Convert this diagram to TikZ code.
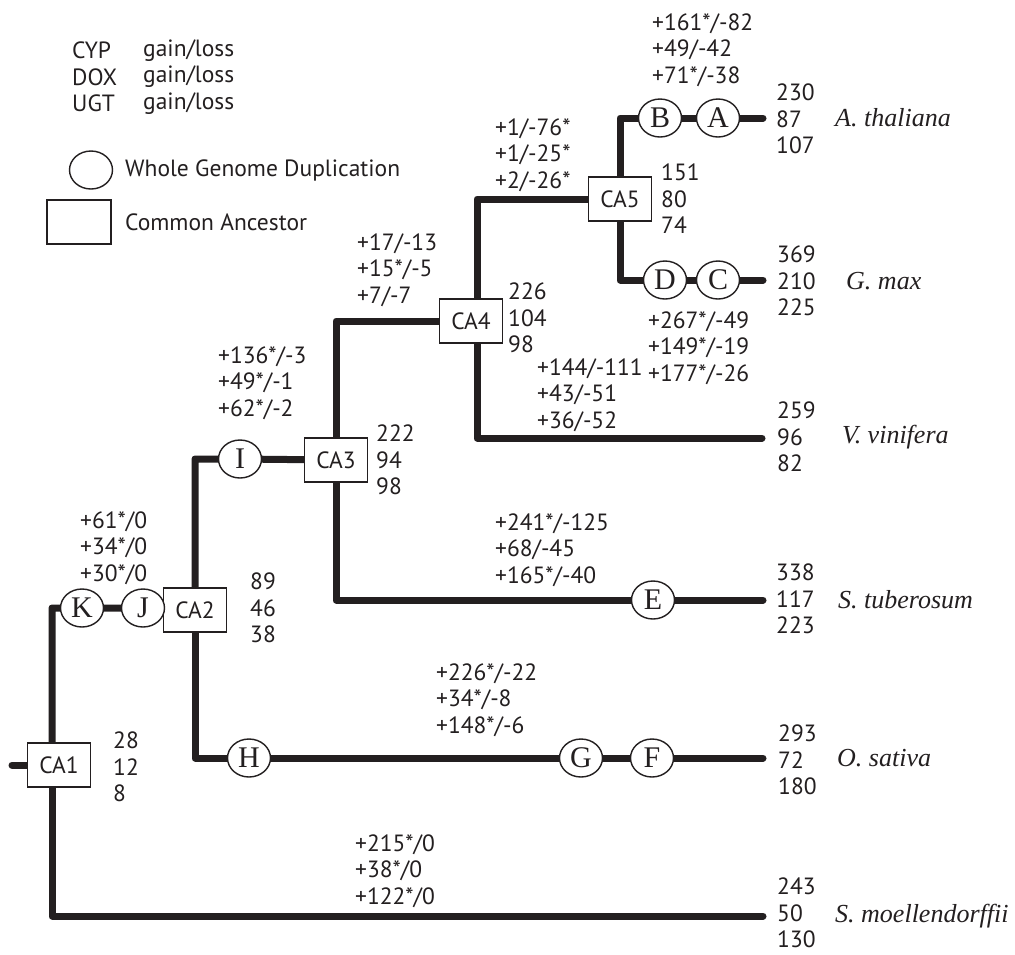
\documentclass[tikz,border=0pt]{standalone}
\usepackage{fontspec}
\setmainfont{Liberation Serif}
\setsansfont{PT Sans}
\usetikzlibrary{shapes.geometric,backgrounds}
\definecolor{ink}{RGB}{35,31,32}
\newcommand{\labfont}{\sffamily\fontsize{23.5}{26.5}\selectfont}
\newcommand{\wgdfont}{\rmfamily\fontsize{30}{30}\selectfont}
\newcommand{\spfont}{\rmfamily\itshape\fontsize{26}{28}\selectfont}
\begin{document}
\begin{tikzpicture}[x=1pt,y=-1pt,
  branch/.style={line width=7pt, draw=ink, line cap=round, line join=round},
  wgd/.style={ellipse, draw=ink, line width=1.4pt, fill=white, minimum width=43pt, minimum height=38pt, inner sep=0pt, font=\wgdfont, text=ink},
  ca/.style={rectangle, draw=ink, line width=1.3pt, fill=white, minimum width=63pt, minimum height=44pt, inner sep=0pt, font=\labfont, text=ink},
  lab/.style={anchor=west, align=left, inner sep=0pt, font=\labfont, text=ink},
  sp/.style={anchor=west, inner sep=0pt, font=\spfont, text=ink}]
\useasboundingbox (0,0) rectangle (1015,954);

% legend
\node[lab] (legname) at (72,77) {CYP\\DOX\\UGT};
\node[lab] (legval) at (143,77) {gain/loss\\gain/loss\\gain/loss};
\node[wgd] (legwgd) at (91,170) {};
\node[lab] (legwgdt) at (125,170) {Whole Genome Duplication};
\node[ca, minimum width=64pt] (legca) at (79,222) {};
\node[lab] (legcat) at (125,222) {Common Ancestor};

% ancestors
\node[ca] (CA1) at (59,765) {CA1};
\node[ca] (CA2) at (195,610) {CA2};
\node[ca] (CA3) at (336,460) {CA3};
\node[ca] (CA4) at (471,321) {CA4};
\node[ca] (CA5) at (620,199) {CA5};

% duplications
\node[wgd] (K) at (82,608) {K};
\node[wgd] (J) at (143,608) {J};
\node[wgd] (I) at (240,459) {I};
\node[wgd] (H) at (249,758) {H};
\node[wgd] (G) at (581,758) {G};
\node[wgd] (F) at (652,758) {F};
\node[wgd] (E) at (653,600) {E};
\node[wgd] (D) at (665,280) {D};
\node[wgd] (C) at (718,280) {C};
\node[wgd] (B) at (660,118) {B};
\node[wgd] (A) at (718,118) {A};

% tips
\coordinate (root) at (12,765);
\coordinate (Ath) at (763,118);
\coordinate (Gma) at (763,280);
\coordinate (Vvi) at (762,438);
\coordinate (Stu) at (763,600);
\coordinate (Osa) at (763,758);
\coordinate (Smo) at (763,916);

\begin{scope}[on background layer]
\fill[white] (0,0) rectangle (1015,954);
\draw[branch] (root) -- (CA1.center);
\draw[branch] ([xshift=-7pt]CA1.center) |- (K.center) -- (J.center) -- (CA2.center);
\draw[branch] ([xshift=-7pt]CA1.center) |- (Smo);
\draw[branch] (CA2.center) |- (I.center) -- (CA3.center);
\draw[branch] (CA2.center) |- (H.center) -- (G.center) -- (F.center) -- (Osa);
\draw[branch] (CA3.center) |- (CA4.center);
\draw[branch] (CA3.center) |- (E.center) -- (Stu);
\draw[branch] ([xshift=6pt]CA4.center) |- (CA5.center);
\draw[branch] ([xshift=6pt]CA4.center) |- (Vvi);
\draw[branch] (CA5.center) |- (B.center) -- (A.center) -- (Ath);
\draw[branch] (CA5.center) |- (D.center) -- (C.center) -- (Gma);
\end{scope}

% gene counts at nodes
\node[lab] (nCA1) at (113,767) {28\\12\\8};
\node[lab] (nCA2) at (250,608) {89\\46\\38};
\node[lab] (nCA3) at (376,460) {222\\94\\98};
\node[lab] (nCA4) at (508,318) {226\\104\\98};
\node[lab] (nCA5) at (661,199) {151\\80\\74};
\node[lab] (nAth) at (776,119) {230\\87\\107};
\node[lab] (nGma) at (777,281) {369\\210\\225};
\node[lab] (nVvi) at (777,437) {259\\96\\82};
\node[lab] (nStu) at (776,599) {338\\117\\223};
\node[lab] (nOsa) at (778,760) {293\\72\\180};
\node[lab] (nSmo) at (777,913) {243\\50\\130};

% gain/loss on branches
\node[lab] (gAB) at (652,50) {+161*/-82\\+49/-42\\+71*/-38};
\node[lab] (gCA5) at (495,155) {+1/-76*\\+1/-25*\\+2/-26*};
\node[lab] (gCA4) at (357,270) {+17/-13\\+15*/-5\\+7/-7};
\node[lab] (gI) at (218,383) {+136*/-3\\+49*/-1\\+62*/-2};
\node[lab] (gKJ) at (80,548) {+61*/0\\+34*/0\\+30*/0};
\node[lab] (gE) at (495,550) {+241*/-125\\+68/-45\\+165*/-40};
\node[lab] (gDC) at (648,348) {+267*/-49\\+149*/-19\\+177*/-26};
\node[lab] (gV) at (537,395) {+144/-111\\+43/-51\\+36/-52};
\node[lab] (gGF) at (436,700) {+226*/-22\\+34*/-8\\+148*/-6};
\node[lab] (gSmo) at (355,871) {+215*/0\\+38*/0\\+122*/0};

% species
\node[sp] (sAth) at (835,118) {A. thaliana};
\node[sp] (sGma) at (846,281) {G. max};
\node[sp] (sVvi) at (842,437) {V. vinifera};
\node[sp] (sStu) at (838,600) {S. tuberosum};
\node[sp] (sOsa) at (837,758) {O. sativa};
\node[sp] (sSmo) at (835,916) {S. moellendorffii};
\end{tikzpicture}
\end{document}
